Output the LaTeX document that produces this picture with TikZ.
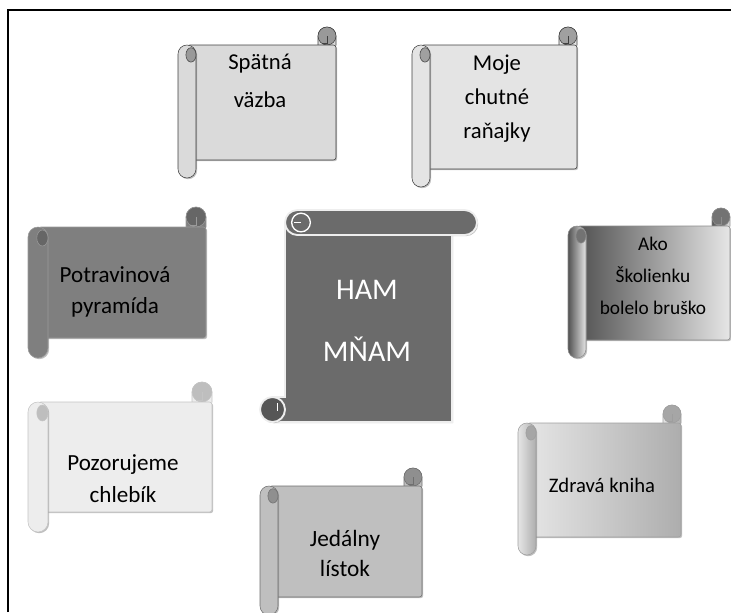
\documentclass[tikz,border=0pt]{standalone}
\usepackage{fontspec}
\setmainfont{Carlito}
\usetikzlibrary{calc}
\usetikzlibrary{shadows}

\definecolor{darkline}{HTML}{404040}
\definecolor{spatnafill}{HTML}{DADADA}
\definecolor{mojefill}{HTML}{E4E4E4}
\definecolor{pyramidfill}{HTML}{7F7F7F}
\definecolor{pyramidline}{HTML}{9A9A9A}
\definecolor{breadfill}{HTML}{EDEDED}
\definecolor{breadline}{HTML}{C4C4C4}
\definecolor{menufill}{HTML}{BFBFBF}
\definecolor{menuline}{HTML}{6F6F6F}
\definecolor{centrefill}{HTML}{6B6B6B}
\definecolor{centreline}{HTML}{EEEEEE}

\tikzset{
  frameline/.style={line width=1.6pt},
  sheetshadow/.style={drop shadow={shadow xshift=0.9pt,shadow yshift=-0.9pt,opacity=0.5}},
  scrolltext/.style={align=center,text=black,inner sep=0pt},
  centre/.style={fill=centrefill,draw=centreline,line width=1.4pt,sheetshadow},
}

% horizontal scroll: left, top, right, bottom, roll size, fill, line colour, curl colour
\newcommand{\hscroll}[8]{%
  \pgfmathsetmacro\scL{#1}%
  \pgfmathsetmacro\scT{#2}%
  \pgfmathsetmacro\scR{#3}%
  \pgfmathsetmacro\scB{#4}%
  \pgfmathsetmacro\scA{#5}%
  \pgfmathsetmacro\scH{#5/2}%
  \pgfmathsetmacro\scC{#5*0.375}%
  \pgfmathsetmacro\scX{#5*0.21}%
  \pgfmathsetmacro\scY{#5*0.3}%
  % Roll on the top right
  \draw[#6,draw=#7,rounded corners=\scC pt] (\scR-\scA,\scT) rectangle (\scR,\scT+1.5*\scA);
  \draw[draw=#7,fill=#8] (\scR-\scH,\scT+\scH) circle[radius=\scC pt];
  \draw[#7] (\scR-\scH,\scT+\scH) -- (\scR-\scH,\scT+0.9*\scA) -- (\scR-0.8*\scA,\scT+0.9*\scA);
  % Sheet
  \draw[#6,draw=#7,sheetshadow,rounded corners=2pt] (\scL+\scH,\scT+\scA) rectangle (\scR,\scB-\scA);
  % Roll on the left
  \draw[#6,draw=#7,sheetshadow,rounded corners=\scC pt] (\scL,\scT+\scA) rectangle (\scL+\scA,\scB);
  \draw[draw=#7,fill=#8] (\scL+0.72*\scA,\scT+1.55*\scA) ellipse[x radius=\scX pt,y radius=\scY pt];
}

\begin{document}
\begin{tikzpicture}[x=0.75pt,y=-0.75pt]
  % Boundary
  \useasboundingbox (0,0) rectangle (731,612);
  % Frame
  \draw[frameline] (8,612) -- (8,10) -- (731,10);

  % Scrolls round the centre
  \hscroll{178}{27}{336}{178}{18}{fill=spatnafill}{darkline}{spatnafill!70!black}
  \node[scrolltext,font=\fontsize{17}{28.5}\selectfont] (spatna) at (260,81) {Spätná\\väzba};

  \hscroll{412}{27}{577}{187}{18}{fill=mojefill}{darkline}{mojefill!70!black}
  \node[scrolltext,font=\fontsize{17}{25.5}\selectfont] (raynajky) at (497,99) {Moje\\chutné\\raňajky};

  \hscroll{28}{207}{206}{358}{20}{fill=pyramidfill}{pyramidline}{pyramidfill!80!black}
  \node[scrolltext,font=\fontsize{17.3}{23}\selectfont] (pyramida) at (115,292) {Potravinová\\pyramída};

  \hscroll{568}{208}{730}{358}{18}{left color=black!68,right color=black!10}{black!45}{black!55}
  \node[scrolltext,font=\fontsize{14.5}{24}\selectfont] (brusko) at (653,276) {Ako\\Školienku\\bolelo bruško};

  \hscroll{28}{382}{212}{532}{20}{fill=breadfill}{breadline}{breadfill!80!black}
  \node[scrolltext,font=\fontsize{17.3}{24}\selectfont] (chlebik) at (123,479) {Pozorujeme\\chlebík};

  \hscroll{260}{468}{422}{615}{18}{fill=menufill}{menuline}{menufill!75!black}
  \node[scrolltext,font=\fontsize{17.5}{22.5}\selectfont] (listok) at (345,553) {Jedálny\\lístok};

  \hscroll{518}{405}{681}{555}{18}{left color=black!10,right color=black!32}{black!38}{black!35}
  \node[scrolltext,font=\fontsize{15.5}{20}\selectfont] (kniha) at (602,485) {Zdravá kniha};

  % Centre scroll
  \draw[centre] (285,222.5) -- (452,222.5) -- (452,422) -- (272.5,422) -- (272.5,397) -- (285,397) -- cycle;
  \draw[centre,rounded corners=9.375pt] (285,210) rectangle (477,235);
  \draw[white,line width=1pt] (301,222.5) circle[radius=7pt];
  \draw[white,line width=1pt] (301,222.5) -- (294,222.5);
  \draw[centre,fill=centrefill!80!black] (272.5,409.5) circle[radius=9.375pt];
  \draw[white,line width=1pt] (277.5,403) -- (277.5,411);
  \node[scrolltext,text=white,font=\fontsize{22.5}{46.5}\selectfont] (hamnam) at (367,321) {HAM\\MŇAM};
\end{tikzpicture}
\end{document}
